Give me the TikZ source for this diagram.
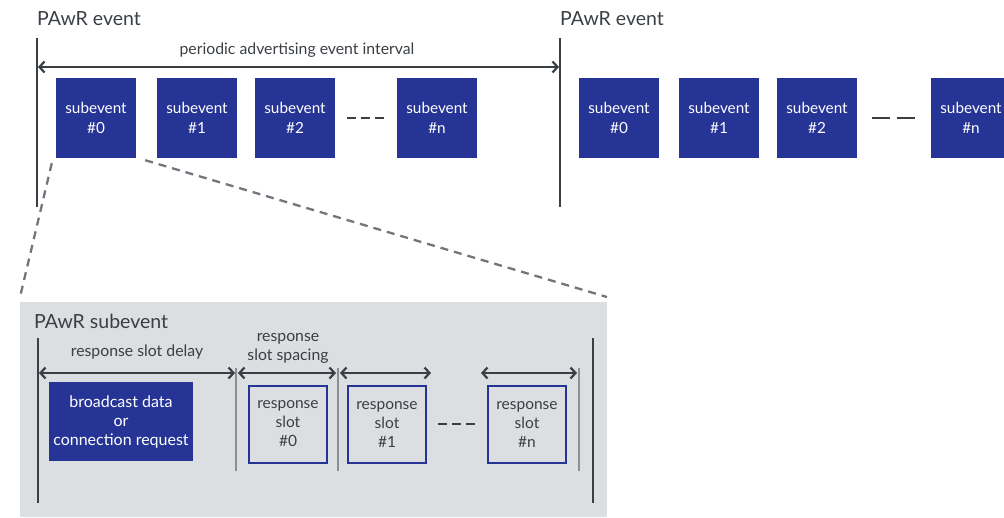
\documentclass[tikz,border=0pt]{standalone}
\usepackage{fontspec}
\setmainfont{Lato}
\usetikzlibrary{arrows.meta}
\definecolor{pawrblue}{RGB}{38,52,150}
\definecolor{linegray}{RGB}{58,63,68}
\definecolor{sepgray}{RGB}{138,144,150}
\definecolor{panelgray}{RGB}{220,223,226}
\definecolor{zoomgray}{RGB}{112,118,124}
\begin{document}
\begin{tikzpicture}[x=1pt,y=-1pt,
  subev/.style={fill=pawrblue,text=white,minimum width=80pt,minimum height=80pt,inner sep=0pt,align=center,font=\fontsize{15.3}{20}\selectfont},
  slotbox/.style={draw=pawrblue,line width=2pt,fill=panelgray,text=linegray,minimum width=78pt,minimum height=77pt,inner sep=0pt,align=center,font=\fontsize{15.5}{19}\selectfont},
  title/.style={text=linegray,inner sep=0pt,font=\fontsize{19.5}{22}\selectfont},
  lbl/.style={text=linegray,inner sep=0pt,align=center,font=\fontsize{15.8}{19}\selectfont},
  evbar/.style={linegray,line width=2.5pt},
  sepline/.style={sepgray,line width=2pt},
  spanarrow/.style={linegray,line width=2.2pt,{Straight Barb[length=5pt,width=11pt]}-{Straight Barb[length=5pt,width=11pt]}},
  zoomline/.style={zoomgray,line width=2.3pt,dash pattern=on 8pt off 6pt},
  gapdash/.style={linegray,line width=2.5pt,dash pattern=on 9pt off 5pt}
]
\clip (0,0) rectangle (1004,517);
\node[title,anchor=west] (ev0) at (37,19) {PAwR event};
\node[title,anchor=west] (ev1) at (560,19) {PAwR event};
\coordinate (b0t) at (37,38); \coordinate (b0b) at (37,207);
\coordinate (b1t) at (560,38); \coordinate (b1b) at (560,207);
\draw[evbar] (b0t)--(b0b);
\draw[evbar] (b1t)--(b1b);
\coordinate (ia) at (38,67); \coordinate (ib) at (559,67);
\draw[spanarrow] (ia)--(ib);
\node[lbl] (ival) at (297,50) {periodic advertising event interval};
\node[subev] (a0) at (96,118) {subevent\\\#0};
\node[subev] (a1) at (197,118) {subevent\\\#1};
\node[subev] (a2) at (295,118) {subevent\\\#2};
\node[subev] (an) at (437,118) {subevent\\\#n};
\draw[gapdash,shorten <=12pt,shorten >=13pt] (a2.east)--(an.west);
\node[subev] (c0) at (619,118) {subevent\\\#0};
\node[subev] (c1) at (719,118) {subevent\\\#1};
\node[subev] (c2) at (817,118) {subevent\\\#2};
\node[subev] (cn) at (971,118) {subevent\\\#n};
\draw[gapdash,dash pattern=on 18pt off 7pt,shorten <=15pt,shorten >=16pt] (c2.east)--(cn.west);
\fill[panelgray] (20,302) rectangle (607,517);
\coordinate (z0) at (20,297); \coordinate (z1) at (607,297);
\draw[zoomline] ([shift={(-4,5)}]a0.south west)--(z0);
\draw[zoomline] ([shift={(9,2)}]a0.south east)--(z1);
\node[title,anchor=west] (sub) at (34,321) {PAwR subevent};
\coordinate (p0t) at (38,338); \coordinate (p0b) at (38,503);
\coordinate (p1t) at (593,338); \coordinate (p1b) at (593,503);
\draw[evbar] (p0t)--(p0b);
\draw[evbar] (p1t)--(p1b);
\foreach \x in {236,338,579}{
  \draw[sepline] (\x,368)--(\x,471);
}
\node[subev,minimum width=144pt,minimum height=79pt,font=\fontsize{16}{19}\selectfont] (bc) at (121,421.5) {broadcast data\\or\\connection request};
\node[slotbox] (r0) at (288,424) {response\\slot\\\#0};
\node[slotbox] (r1) at (387,424) {response\\slot\\\#1};
\node[slotbox] (rn) at (527,424) {response\\slot\\\#n};
\draw[gapdash,shorten <=11pt,shorten >=12pt] (r1.east)--(rn.west);
\coordinate (d0) at (39,373); \coordinate (d1) at (235,373);
\coordinate (s0) at (238,373); \coordinate (s1) at (336,373);
\coordinate (s2) at (340,373); \coordinate (s3) at (431,373);
\coordinate (s4) at (481,373); \coordinate (s5) at (577,373);
\draw[spanarrow] (d0)--(d1);
\draw[spanarrow] (s0)--(s1);
\draw[spanarrow] (s2)--(s3);
\draw[spanarrow] (s4)--(s5);
\node[lbl] (dly) at (137,352) {response slot delay};
\node[lbl] (spc) at (288,348) {response\\slot spacing};
\end{tikzpicture}
\end{document}
